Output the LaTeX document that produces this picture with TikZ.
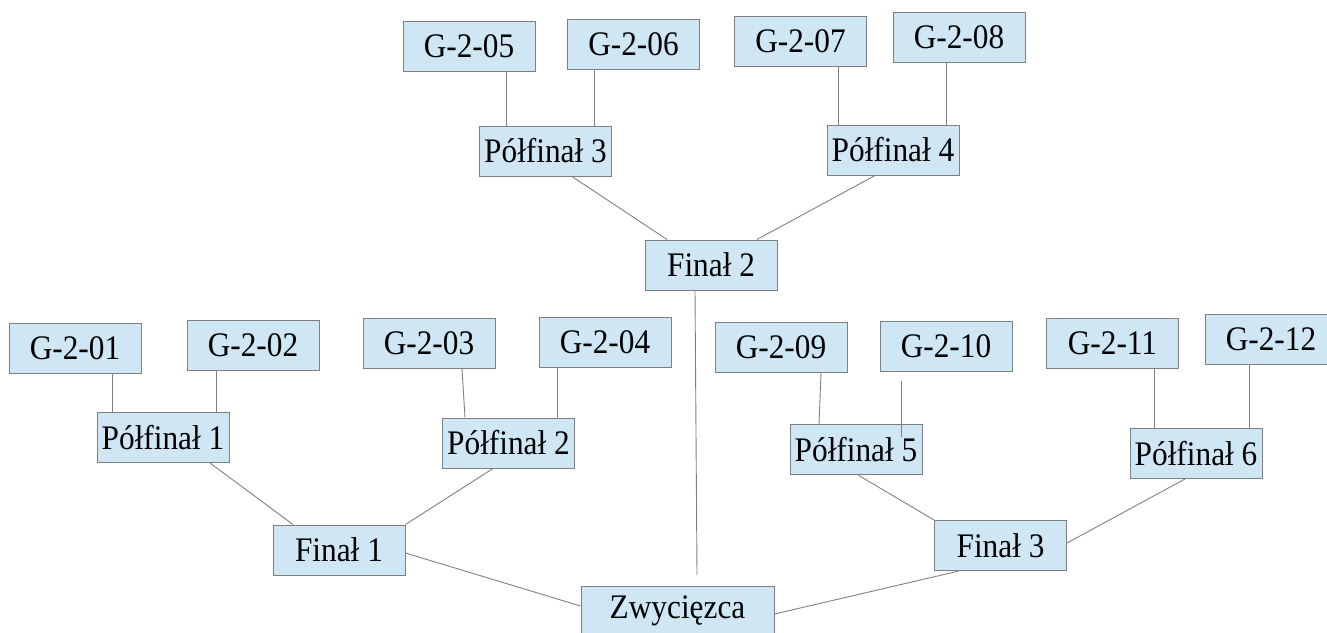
\documentclass[tikz,border=0pt]{standalone}
\usepackage{fontspec}
\setmainfont{Liberation Serif}
\usepackage{graphicx}
\usepackage{tikz}
\definecolor{boxfill}{HTML}{CFE7F5}
\definecolor{boxline}{HTML}{7F7F7F}
\definecolor{linkline}{HTML}{808080}
\newcommand{\boxfont}{\fontsize{31.3}{36}\selectfont}
\newcommand{\tall}[1]{\scalebox{1}[1.1]{#1}}

\begin{document}
\begin{tikzpicture}[x=1pt,y=-1pt,
  team/.style={draw=boxline,fill=boxfill,line width=1pt,minimum width=132pt,minimum height=50pt,inner sep=0pt,font=\boxfont},
  link/.style={draw=linkline,line width=0.9pt}]
 \useasboundingbox (0,0) rectangle (1327,632);

 \node[team] (g01) at (75,348) {\tall{G-2-01}};
 \node[team] (g02) at (253,345) {\tall{G-2-02}};
 \node[team] (g03) at (429,343.5) {\tall{G-2-03}};
 \node[team] (g04) at (605,342.5) {\tall{G-2-04}};
 \node[team] (g05) at (469,46) {\tall{G-2-05}};
 \node[team] (g06) at (633.5,44.5) {\tall{G-2-06}};
 \node[team] (g07) at (800.5,41.5) {\tall{G-2-07}};
 \node[team] (g08) at (959,37) {\tall{G-2-08}};
 \node[team] (g09) at (781,347) {\tall{G-2-09}};
 \node[team] (g10) at (946,346) {\tall{G-2-10}};
 \node[team] (g11) at (1112.5,343) {\tall{G-2-11}};
 \node[team] (g12) at (1271,339) {\tall{G-2-12}};

 \node[team] (pf1) at (163,437.5) {\tall{Półfinał 1}};
 \node[team] (pf2) at (508.5,443) {\tall{Półfinał 2}};
 \node[team] (pf3) at (545.5,151) {\tall{Półfinał 3}};
 \node[team] (pf4) at (893,150) {\tall{Półfinał 4}};
 \node[team] (pf5) at (856,449.5) {\tall{Półfinał 5}};
 \node[team] (pf6) at (1196,453.5) {\tall{Półfinał 6}};

 \node[team] (f1) at (339,550) {\tall{Finał 1}};
 \node[team] (f2) at (711,265) {\tall{Finał 2}};
 \node[team] (f3) at (1000.5,545.5) {\tall{Finał 3}};

 \node[team,minimum width=193pt] (win) at (677.5,611) {\tall{Zwycięzca}};

 \coordinate (f2end) at (697,575);
 \coordinate (g10a) at (901.5,381);
 \coordinate (g10b) at (901.5,437);

 \draw[link] ([xshift=37]g01.south) -- ([xshift=-51]pf1.north);
 \draw[link] ([xshift=-37]g02.south) -- ([xshift=53]pf1.north);
 \draw[link] ([xshift=33]g03.south) -- ([xshift=-43.5]pf2.north);
 \draw[link] ([xshift=-48]g04.south) -- ([xshift=48.5]pf2.north);
 \draw[link] ([xshift=37]g05.south) -- ([xshift=-39.5]pf3.north);
 \draw[link] ([xshift=-39.5]g06.south) -- ([xshift=48.5]pf3.north);
 \draw[link] ([xshift=37.5]g07.south) -- ([xshift=-55]pf4.north);
 \draw[link] ([xshift=-13]g08.south) -- ([xshift=53]pf4.north);
 \draw[link] ([xshift=40]g09.south) -- ([xshift=-37]pf5.north);
 \draw[link] (g10a) -- (g10b);
 \draw[link] ([xshift=41.5]g11.south) -- ([xshift=-42]pf6.north);
 \draw[link] ([xshift=-22]g12.south) -- ([xshift=53]pf6.north);

 \draw[link] ([xshift=47]pf1.south) -- ([xshift=-46]f1.north);
 \draw[link] ([xshift=-15.5]pf2.south) -- (f1.north east);
 \draw[link] ([xshift=26.5]pf3.south) -- ([xshift=-44]f2.north);
 \draw[link] ([xshift=-18]pf4.south) -- ([xshift=46]f2.north);
 \draw[link] ([xshift=2]pf5.south) -- (f3.north west);
 \draw[link] ([xshift=-11]pf6.south) -- ([yshift=2.5]f3.east);

 \draw[link] ([yshift=-3]f1.east) -- ([yshift=5]win.west);
 \draw[link] ([xshift=-16]f2.south) -- (f2end);
 \draw[link] ([xshift=-41.5]f3.south) -- ([yshift=-3]win.east);

\end{tikzpicture}
\end{document}
